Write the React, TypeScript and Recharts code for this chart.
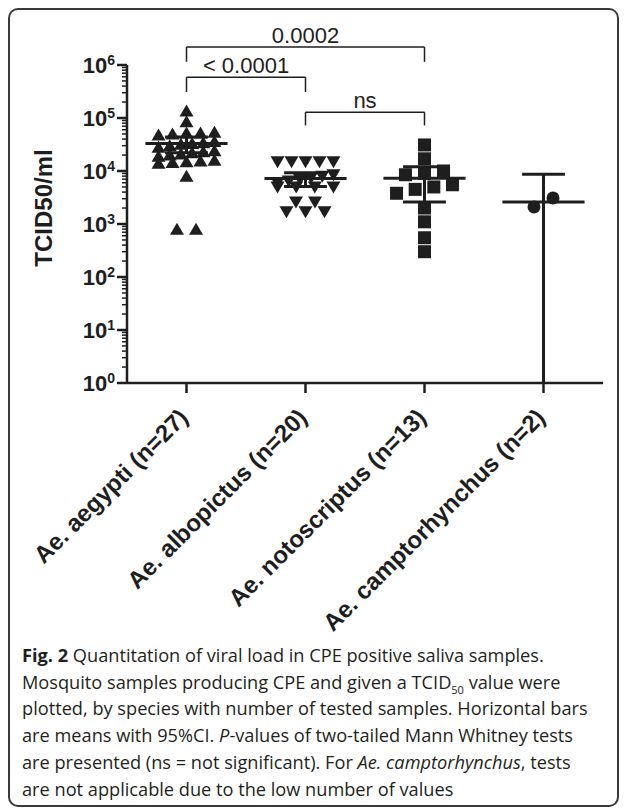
import React from "react";
import { ComposedChart, Scatter, XAxis, YAxis, ReferenceLine, Label } from "recharts";

// categories (x axis)
const species = [
  "Ae. aegypti (n=27)",
  "Ae. albopictus (n=20)",
  "Ae. notoscriptus (n=13)",
  "Ae. camptorhynchus (n=2)",
];

// TCID50/ml per saliva sample
const aegypti = [
  135000, 85000, 54000, 52000, 52000, 50000, 48000, 36000, 34000, 33000, 32000, 30000, 28000, 24000,
  23000, 22000, 21000, 20000, 19000, 16000, 15500, 15000, 14500, 14000, 8000, 800, 800,
];
const albopictus = [
  15000, 15000, 15000, 15000, 15000, 8500, 8000, 7500, 7000, 6500, 6000, 5000, 5000, 5000, 5000,
  2600, 2600, 1700, 1700, 1700,
];
const notoscriptus = [31000, 17000, 10000, 9000, 8500, 5500, 5000, 4500, 3800, 2000, 1100, 550, 300];
const camptorhynchus = [3100, 2100];

// means with 95% CI
const means = [33000, 7200, 7300, 2600];
const ciLow = [22000, 5100, 2600, 1];
const ciHigh = [44000, 9300, 12000, 8700];

// Mann Whitney p-values between groups
const comparisons = [
  { from: 0, to: 2, label: "0.0002" },
  { from: 0, to: 1, label: "< 0.0001" },
  { from: 1, to: 2, label: "ns" },
];

const yMajor = [1, 10, 100, 1000, 10000, 100000, 1000000];

const INK = "#1e1e1e";
const FONT = "'Liberation Sans', Arial, Helvetica, sans-serif";
const ROW_SPAN = 0.17; // decades grouped into one row of the dot plot
const STEP = 0.16; // horizontal spacing of points in a row (band units)
const ROW_WIDTH = 0.47; // widest a row may get
const MEAN_HALF = 0.345;
const CAP_HALF = 0.18;
// bracket heights in log10 units, and the drop of the bracket legs
const bracketLevels = [
  { at: 6.34, drop: [0.28, 0.28] },
  { at: 5.77, drop: [0.28, 0.28] },
  { at: 5.11, drop: [0.25, 0.25] },
];

const yTicks: number[] = [];
for (let e = 0; e < 6; e++) for (let m = 1; m < 10; m++) yTicks.push(m * 10 ** e);
yTicks.push(1e6);

// GraphPad-like column layout: points of similar value share a row and are spread sideways
function column(values: number[], group: number) {
  const sorted = [...values].sort((a, b) => b - a);
  const rows: number[][] = [];
  for (const v of sorted) {
    const row = rows[rows.length - 1];
    if (row && Math.log10(row[0]) - Math.log10(v) < ROW_SPAN) row.push(v);
    else rows.push([v]);
  }
  return rows.flatMap((row) => {
    const step = row.length > 1 ? Math.min(STEP, ROW_WIDTH / (row.length - 1)) : 0;
    return [...row]
      .reverse()
      .map((v, i) => ({ x: group + 0.5 + (i - (row.length - 1) / 2) * step, y: v }));
  });
}

const TriangleUp = ({ cx, cy }: any) => (
  <path d={`M${cx},${cy - 6.5} L${cx + 7},${cy + 5.5} L${cx - 7},${cy + 5.5} Z`} fill={INK} />
);
const TriangleDown = ({ cx, cy }: any) => (
  <path d={`M${cx - 7},${cy - 5.5} L${cx + 7},${cy - 5.5} L${cx},${cy + 6.5} Z`} fill={INK} />
);
const Square = ({ cx, cy }: any) => <rect x={cx - 6.5} y={cy - 6.5} width={13} height={13} fill={INK} />;
const Dot = ({ cx, cy }: any) => <circle cx={cx} cy={cy} r={6.5} fill={INK} />;

const YTick = ({ x, y, payload }: any) => {
  const v = payload.value;
  const e = Math.round(Math.log10(v));
  const major = yMajor.includes(v);
  return (
    <g>
      <line x1={x - (major ? 10 : 5)} x2={x} y1={y} y2={y} stroke={INK} strokeWidth={major ? 2.5 : 1.5} />
      {major && (
        <text x={x - 12} y={y + 8} textAnchor="end" fontFamily={FONT} fontWeight="bold" fontSize={22} fill={INK}>
          10
          <tspan dy={-8} fontSize={14}>
            {e}
          </tspan>
        </text>
      )}
    </g>
  );
};

const XTick = ({ x, y, payload }: any) => {
  const name = species[Math.floor(payload.value)];
  const ax = x + 3;
  const ay = y + 36;
  return (
    <g>
      <line x1={x} x2={x} y1={y} y2={y + 10} stroke={INK} strokeWidth={2.5} />
      <text
        x={ax}
        y={ay}
        transform={`rotate(-45 ${ax} ${ay})`}
        textAnchor="end"
        fontFamily={FONT}
        fontWeight="bold"
        fontSize={24}
        fill={INK}
      >
        {name}
      </text>
    </g>
  );
};

const groups = [
  { data: column(aegypti, 0), shape: TriangleUp },
  { data: column(albopictus, 1), shape: TriangleDown },
  { data: column(notoscriptus, 2), shape: Square },
  { data: column(camptorhynchus, 3), shape: Dot },
];

export default function App() {
  return (
    <div
      style={{
        position: "relative",
        width: 607,
        height: 795,
        border: "2px solid #3a3a3a",
        borderRadius: 10,
        background: "#fff",
      }}
    >
      <ComposedChart width={607} height={630} margin={{ top: 55, right: 14, bottom: 27, left: 0 }}>
        <XAxis
          type="number"
          dataKey="x"
          domain={[0, 4]}
          ticks={[0.5, 1.5, 2.5, 3.5]}
          interval={0}
          height={230}
          tickSize={0}
          tickMargin={0}
          tick={<XTick />}
          axisLine={{ stroke: INK, strokeWidth: 2.5 }}
          allowDataOverflow
        />
        <YAxis
          type="number"
          dataKey="y"
          scale="log"
          domain={[1, 1000000]}
          ticks={yTicks}
          interval={0}
          width={117}
          tickSize={0}
          tickMargin={0}
          tick={<YTick />}
          axisLine={{ stroke: INK, strokeWidth: 2.5 }}
          allowDataOverflow
        >
          <Label
            content={({ viewBox }: any) => {
              const bx = viewBox.x + 42;
              const cy = viewBox.y + viewBox.height / 2 - 16;
              return (
                <text
                  transform={`translate(${bx},${cy}) rotate(-90)`}
                  textAnchor="middle"
                  fontFamily={FONT}
                  fontWeight="bold"
                  fontSize={24}
                  fill={INK}
                >
                  TCID50/ml
                </text>
              );
            }}
          />
        </YAxis>
        {groups.map((g, i) => (
          <Scatter key={i} data={g.data} shape={g.shape} isAnimationActive={false} />
        ))}
        {means.map((m, i) => (
          <ReferenceLine
            key={`m${i}`}
            segment={[
              { x: i + 0.5 - MEAN_HALF, y: m },
              { x: i + 0.5 + MEAN_HALF, y: m },
            ]}
            stroke={INK}
            strokeWidth={3}
            ifOverflow="visible"
          />
        ))}
        {means.map((_, i) => (
          <ReferenceLine
            key={`v${i}`}
            segment={[
              { x: i + 0.5, y: ciLow[i] },
              { x: i + 0.5, y: ciHigh[i] },
            ]}
            stroke={INK}
            strokeWidth={3}
            ifOverflow="visible"
          />
        ))}
        {means.map((_, i) => (
          <ReferenceLine
            key={`c${i}`}
            segment={[
              { x: i + 0.5 - CAP_HALF, y: ciHigh[i] },
              { x: i + 0.5 + CAP_HALF, y: ciHigh[i] },
            ]}
            stroke={INK}
            strokeWidth={3}
            ifOverflow="visible"
          />
        ))}
        {means.slice(0, 3).map((_, i) => (
          <ReferenceLine
            key={`l${i}`}
            segment={[
              { x: i + 0.5 - CAP_HALF, y: ciLow[i] },
              { x: i + 0.5 + CAP_HALF, y: ciLow[i] },
            ]}
            stroke={INK}
            strokeWidth={3}
            ifOverflow="visible"
          />
        ))}
        {comparisons.map((c, i) => {
          const lv = bracketLevels[i];
          const top = 10 ** lv.at;
          return (
            <React.Fragment key={`b${i}`}>
              <ReferenceLine
                segment={[
                  { x: c.from + 0.5, y: top },
                  { x: c.to + 0.5, y: top },
                ]}
                stroke={INK}
                strokeWidth={1.5}
                ifOverflow="visible"
                label={{ value: c.label, position: "top", offset: 4, fontSize: 22, fill: INK, fontFamily: FONT }}
              />
              <ReferenceLine
                segment={[
                  { x: c.from + 0.5, y: top },
                  { x: c.from + 0.5, y: 10 ** (lv.at - lv.drop[0]) },
                ]}
                stroke={INK}
                strokeWidth={1.5}
                ifOverflow="visible"
              />
              <ReferenceLine
                segment={[
                  { x: c.to + 0.5, y: top },
                  { x: c.to + 0.5, y: 10 ** (lv.at - lv.drop[1]) },
                ]}
                stroke={INK}
                strokeWidth={1.5}
                ifOverflow="visible"
              />
            </React.Fragment>
          );
        })}
      </ComposedChart>
      <div
        style={{
          position: "absolute",
          left: 12,
          top: 632,
          fontFamily: "'Open Sans', 'Noto Sans', sans-serif",
          fontSize: 18.2,
          lineHeight: "26.7px",
          color: "#231f20",
          whiteSpace: "nowrap",
        }}
      >
        <div>
          <b>Fig. 2</b> Quantitation of viral load in CPE positive saliva samples.
        </div>
        <div>
          Mosquito samples producing CPE and given a TCID<sub style={{ fontSize: 11, lineHeight: 0 }}>50</sub> value were
        </div>
        <div>plotted, by species with number of tested samples. Horizontal bars</div>
        <div>
          are means with 95%CI. <i>P</i>-values of two-tailed Mann Whitney tests
        </div>
        <div>
          are presented (ns = not significant). For <i>Ae. camptorhynchus</i>, tests
        </div>
        <div>are not applicable due to the low number of values</div>
      </div>
    </div>
  );
}
